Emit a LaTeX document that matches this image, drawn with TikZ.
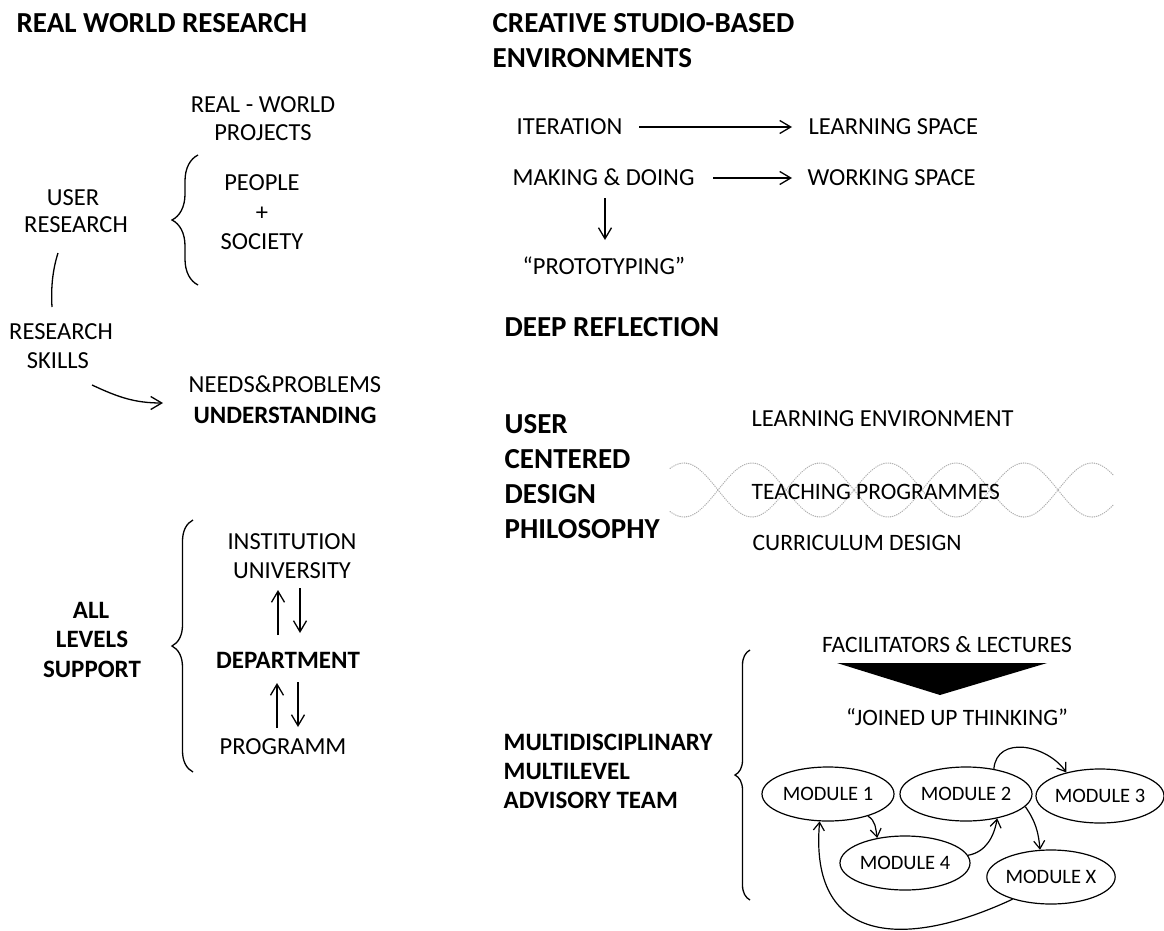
\documentclass[tikz,border=0pt]{standalone}
\usepackage{fontspec}
\setmainfont{Carlito}
\usetikzlibrary{arrows.meta,shapes.geometric,decorations.pathreplacing,calc}
\begin{document}
\begin{tikzpicture}[x=1pt,y=-1pt, line width=1.3pt,
  reg/.style={font=\fontsize{24.5}{29}\selectfont, inner sep=0pt, text height=15.8pt, text depth=0pt},
  sml/.style={font=\fontsize{23.5}{28}\selectfont, inner sep=0pt, text height=15.1pt, text depth=0pt},
  bld/.style={font=\bfseries\fontsize{25}{30}\selectfont, inner sep=0pt, text height=16.1pt, text depth=0pt},
  hd/.style={font=\bfseries\fontsize{29}{34}\selectfont, inner sep=0pt, text height=18.7pt, text depth=0pt},
  modl/.style={ellipse, draw, line width=1.2pt, minimum width=132pt, minimum height=54pt, inner sep=0pt, font=\fontsize{20.5}{24}\selectfont},
  arr/.style={-{Straight Barb[length=11pt,width=13pt]}},
  marr/.style={line width=1.2pt, -{Straight Barb[length=8pt,width=11pt]}},
  brc/.style={decorate, decoration={brace, amplitude=#1}},
  dna/.style={gray!60, line width=1.1pt, dash pattern=on 0.6pt off 1.6pt, line cap=round},
]
\path[use as bounding box, fill=white] (0,0) rectangle (1164,931);

% ---------- left column ----------
\node[hd, anchor=west] (h1) at (16,23) {REAL WORLD RESEARCH};
\node[reg] (rw1) at (263,105) {REAL - WORLD};
\node[reg] (rw2) at (263,133) {PROJECTS};
\node[reg] (ur1) at (73,198) {USER};
\node[reg] (ur2) at (76,225) {RESEARCH};
\node[reg] (pp1) at (262,183) {PEOPLE};
\node[reg] (pp2) at (262,213) {+};
\node[reg] (pp3) at (262,242) {SOCIETY};
\draw[brc=26pt] (198,285) -- (198,155);
\node[reg] (rs1) at (61,332) {RESEARCH};
\node[reg] (rs2) at (58,361) {SKILLS};
\coordinate (l1) at (58,253);
\coordinate (l2) at (52,307);
\draw (l1) .. controls (52,272) and (51,290) .. (l2);
\coordinate (a1) at (92,385);
\coordinate (a2) at (163,403);
\draw[arr] (a1) to[out=-25,in=180] (a2);
\node[reg] (np1) at (285,385) {NEEDS\&PROBLEMS};
\node[bld] (np2) at (285,415) {UNDERSTANDING};

\node[bld] (al1) at (91,610) {ALL};
\node[bld] (al2) at (92,639) {LEVELS};
\node[bld] (al3) at (92,669) {SUPPORT};
\draw[brc=21pt] (193,772) -- (193,520);
\node[reg] (in1) at (292,542) {INSTITUTION};
\node[reg] (in2) at (292,571) {UNIVERSITY};
\node[bld] (dep) at (288,660) {DEPARTMENT};
\node[reg] (prg) at (283,747) {PROGRAMM};
\coordinate (u1a) at (278,635); \coordinate (u1b) at (278,590);
\coordinate (d1a) at (300,588); \coordinate (d1b) at (300,633);
\coordinate (u2a) at (277,728); \coordinate (u2b) at (277,683);
\coordinate (d2a) at (298,682); \coordinate (d2b) at (298,727);
\draw[arr] (u1a) -- (u1b);
\draw[arr] (d1a) -- (d1b);
\draw[arr] (u2a) -- (u2b);
\draw[arr] (d2a) -- (d2b);

% ---------- right column ----------
\node[hd, anchor=west] (h2a) at (492,23) {CREATIVE STUDIO-BASED};
\node[hd, anchor=west] (h2b) at (492,58) {ENVIRONMENTS};
\node[reg, anchor=west] (it) at (516,127) {ITERATION};
\node[reg, anchor=west] (ls) at (808,127) {LEARNING SPACE};
\draw[arr, shorten <=16pt, shorten >=16pt] (it.east) -- (ls.west);
\node[reg, anchor=west] (md) at (512,178) {MAKING \& DOING};
\node[reg, anchor=west] (ws) at (807,178) {WORKING SPACE};
\draw[arr, shorten <=18pt, shorten >=15pt] (md.east) -- (ws.west);
\node[reg, anchor=west] (pt) at (522,267) {“PROTOTYPING”};
\coordinate (p1) at (605,198); \coordinate (p2) at (605,240);
\draw[arr] (p1) -- (p2);

\node[hd, anchor=west] (dr) at (504,327) {DEEP REFLECTION};
\node[hd, anchor=west] (uc1) at (504,424) {USER};
\node[hd, anchor=west] (uc2) at (504,459) {CENTERED};
\node[hd, anchor=west] (uc3) at (504,494) {DESIGN};
\node[hd, anchor=west] (uc4) at (504,529) {PHILOSOPHY};

\draw[dna] plot[domain=670:1113, samples=150, smooth] (\x, {490+27*sin((\x-718)*2.6471)});
\draw[dna] plot[domain=670:1113, samples=150, smooth] (\x, {490-27*sin((\x-718)*2.6471)});
\node[reg, anchor=west] (le) at (751,419) {LEARNING ENVIRONMENT};
\node[sml, anchor=west] (tp) at (751,492) {TEACHING PROGRAMMES};
\node[sml, anchor=west] (cd) at (752,543) {CURRICULUM DESIGN};

\node[bld, anchor=west] (mu1) at (503,742) {MULTIDISCIPLINARY};
\node[bld, anchor=west] (mu2) at (503,771) {MULTILEVEL};
\node[bld, anchor=west] (mu3) at (503,800) {ADVISORY TEAM};
\draw[brc=15pt] (750,900) -- (750,650);

\node[sml] (fl) at (947,645) {FACILITATORS \& LECTURES};
\fill (837,663) -- (1047,663) -- (940,695) -- cycle;
\node[sml] (jt) at (957,718) {“JOINED UP THINKING”};

\node[modl] (m1) at (828,794) {MODULE 1};
\node[modl] (m2) at (966,794) {MODULE 2};
\node[modl, minimum width=126pt] (m3) at (1100,796) {MODULE 3};
\node[modl, minimum width=130pt] (m4) at (905,863) {MODULE 4};
\node[modl, minimum width=128pt] (mx) at (1051,877) {MODULE X};

\draw[marr] (m2.42) to[out=85,in=125,looseness=1.2] (m3.145);
\draw[marr] (m1.331) to[out=-30,in=100] (m4.138);
\draw[marr] (m4.7) to[out=10,in=-100] (m2.-38);
\draw[marr] (m2.-12) to[out=-55,in=95] (mx.112);
\draw[marr] (mx.210) to[out=205,in=-95,looseness=1.5] (m1.-107);
\end{tikzpicture}
\end{document}
